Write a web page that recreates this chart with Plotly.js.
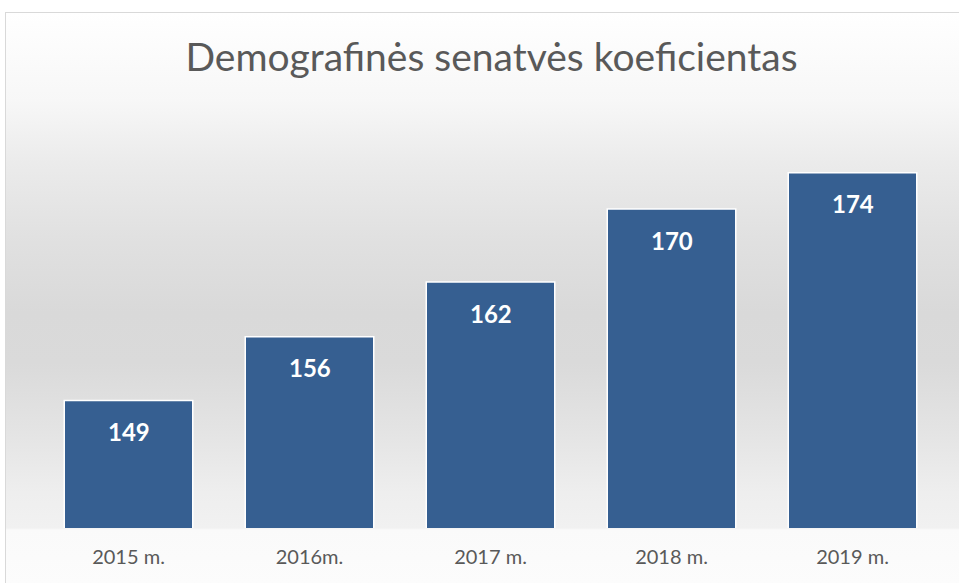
<!DOCTYPE html>
<html>
<head>
<meta charset="utf-8">
<script src="https://cdn.plot.ly/plotly-3.0.1.min.js"></script>
<style>
  html, body { margin: 0; padding: 0; background: #ffffff; overflow: hidden; }
  #frame {
    position: absolute; left: 5px; top: 12px; width: 1000px; height: 600px;
    border: 1px solid #d9d9d9; box-sizing: border-box;
    background: linear-gradient(to bottom,
      #ffffff 0px, #f7f7f7 88px, #ebebeb 150px, #e0e0e0 230px, #d9d9d9 300px,
      #dadada 350px, #e4e4e4 420px, #eeeeee 480px, #f1f1f1 515px,
      #fafafa 517px, #fdfdfd 600px);
  }
  #chart { position: absolute; left: 0; top: 0; width: 959px; height: 583px; }
</style>
</head>
<body>
<div id="frame"></div>
<div id="chart"></div>
<script>
const categories = ['2015 m.', '2016m.', '2017 m.', '2018 m.', '2019 m.'];
const values = [149, 156, 162, 170, 174];
const titleText = 'Demografinės senatvės koeficientas';

const trace = {
  type: 'bar',
  x: categories,
  y: values,
  marker: { color: '#365f91', line: { color: '#ffffff', width: 1.5 } },
  hoverinfo: 'none'
};

const annotations = categories.map((c, i) => ({
  x: c, y: values[i], xref: 'x', yref: 'y',
  text: '<b>' + values[i] + '</b>', showarrow: false,
  yshift: -31, font: { family: 'Lato, "Open Sans", sans-serif', size: 24, color: '#ffffff' }
}));

const layout = {
  width: 959, height: 583,
  paper_bgcolor: 'rgba(0,0,0,0)', plot_bgcolor: 'rgba(0,0,0,0)',
  margin: { l: 38, r: 16, t: 118, b: 55 },
  title: {
    text: titleText, x: 0.5125, xanchor: 'center', y: 0.902, yanchor: 'middle',
    font: { family: 'Lato, "Open Sans", sans-serif', size: 39, color: '#595959' }
  },
  bargap: 0.29,
  showlegend: false,
  xaxis: {
    type: 'category', showgrid: false, zeroline: false, showline: false, ticks: '',
    tickfont: { family: 'Lato, "Open Sans", sans-serif', size: 20, color: '#595959' },
    ticklabelstandoff: 15
  },
  yaxis: { range: [135, 180], visible: false, showgrid: false, zeroline: false },
  annotations: annotations
};

Plotly.newPlot('chart', [trace], layout, { displayModeBar: false, staticPlot: true });
</script>
</body>
</html>
